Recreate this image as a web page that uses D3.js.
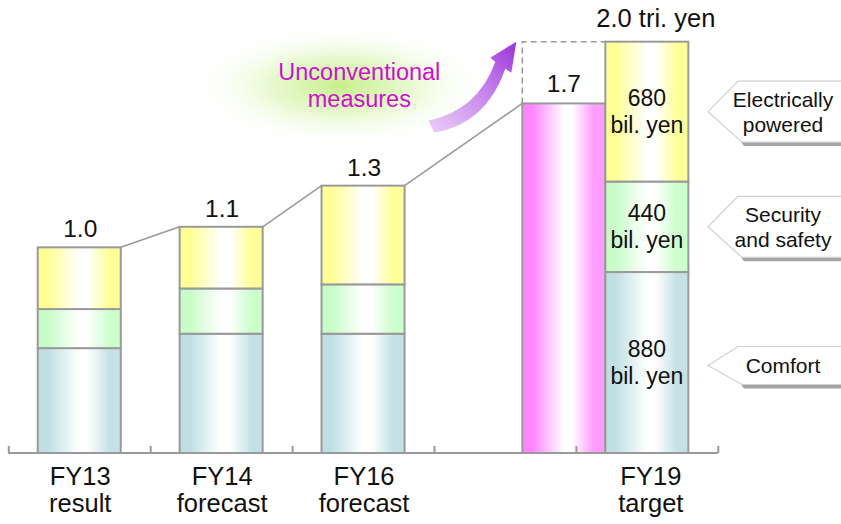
<!DOCTYPE html>
<html>
<head>
<meta charset="utf-8">
<script src="https://cdn.jsdelivr.net/npm/d3@7"></script>
<style>
  html, body { margin: 0; padding: 0; background: #fff; }
  svg { display: block; font-family: Arial, "Liberation Sans", Helvetica, sans-serif; }
</style>
</head>
<body>
<svg id="chart" width="841" height="524"></svg>
<script>
// Sales of in-vehicle products by field (trillion yen)
const categories = ["FY13", "FY14", "FY16", "", "FY19"];
const categoryLine2 = ["result", "forecast", "forecast", "", "target"];
const fields = ["comfort", "security", "electric"];
const comfort  = [0.51, 0.58, 0.58, null, 0.88];
const security = [0.19, 0.22, 0.24, null, 0.44];
const electric = [0.30, 0.30, 0.48, null, 0.68];
const totalLabels = ["1.0", "1.1", "1.3", null, "2.0 tri. yen"];
const conventionalFY19 = 1.7;
const conventionalLabel = "1.7";
const fy19Labels = ["880", "440", "680"];
const unitLabel = "bil. yen";
const calloutLines = [["Comfort"], ["Security", "and safety"], ["Electrically", "powered"]];
const calloutHeights = [38, 61, 61];

const svg = d3.select("#chart");
const W = 841, H = 524;
const baseY = 453;

const x = d3.scaleBand()
  .domain(categories)
  .range([8.3, 717.8])
  .paddingInner(0.415)
  .paddingOuter(0.2075);
const y = d3.scaleLinear().domain([0, 2.0]).range([baseY, 41.7]);
const bw = x.bandwidth();

// gradients: coloured edges fading to white in the middle
const defs = svg.append("defs");
const fills = {
  comfort: ["#bfdfe3", "#c4e2e6"],
  security: ["#c8fcc8", "#ccffcc"],
  electric: ["#ffff94", "#ffff99"],
  pink: ["#ff85ff", "#ff9cff"]
};
Object.entries(fills).forEach(([k, [c0, c1]]) => {
  const g = defs.append("linearGradient").attr("id", "g-" + k)
    .attr("x1", 0).attr("x2", 1).attr("y1", 0).attr("y2", 0);
  [[0, c0], [0.12, c0], [0.5, "#ffffff"], [0.6, "#ffffff"], [0.86, c1], [1, c1]]
    .forEach(([o, c]) => g.append("stop").attr("offset", o).attr("stop-color", c));
});
const glow = defs.append("radialGradient").attr("id", "glow");
glow.append("stop").attr("offset", 0).attr("stop-color", "#c4ee84").attr("stop-opacity", 0.95);
glow.append("stop").attr("offset", 0.45).attr("stop-color", "#dcf6b8").attr("stop-opacity", 0.7);
glow.append("stop").attr("offset", 1).attr("stop-color", "#ffffff").attr("stop-opacity", 0);
const arrowGrad = defs.append("linearGradient").attr("id", "arrowGrad")
  .attr("gradientUnits", "userSpaceOnUse")
  .attr("x1", 0).attr("y1", 90).attr("x2", 90).attr("y2", 0);
arrowGrad.append("stop").attr("offset", 0).attr("stop-color", "#e6c4f6").attr("stop-opacity", 0.85);
arrowGrad.append("stop").attr("offset", 0.6).attr("stop-color", "#c07ae8");
arrowGrad.append("stop").attr("offset", 1).attr("stop-color", "#9a30d8");

svg.append("rect").attr("width", W).attr("height", H).attr("fill", "#fff");

// stacked data
const rows = categories.map((c, i) => ({
  cat: c, comfort: comfort[i], security: security[i], electric: electric[i]
})).filter(d => d.comfort != null);
const series = d3.stack().keys(fields)(rows);

const barX = c => x(c);
const lastCat = categories[categories.length - 1];
const pinkX = x(lastCat) - bw;

// glow behind the annotation text
const ann = { x: pinkX, y: y(2.0) };
svg.append("ellipse")
  .attr("cx", ann.x - 182).attr("cy", ann.y + 44)
  .attr("rx", 150).attr("ry", 62)
  .attr("fill", "url(#glow)");

// connectors between bar tops
const tops = rows.map(d => ({ cat: d.cat, t: d.comfort + d.security + d.electric }));
const connectors = [];
for (let i = 0; i < tops.length - 2; i++) {
  connectors.push([barX(tops[i].cat) + bw, y(tops[i].t), barX(tops[i + 1].cat), y(tops[i + 1].t)]);
}
const t16 = tops[tops.length - 2];
connectors.push([barX(t16.cat) + bw, y(t16.t), pinkX, y(conventionalFY19)]);
svg.append("g").selectAll("line").data(connectors).join("line")
  .attr("x1", d => d[0]).attr("y1", d => d[1]).attr("x2", d => d[2]).attr("y2", d => d[3])
  .attr("stroke", "#9a9a9a").attr("stroke-width", 1.6);

// dashed outline of the gap up to the target
svg.append("path")
  .attr("d", `M${pinkX},${y(conventionalFY19)} V${y(2.0)} H${x(lastCat)}`)
  .attr("fill", "none").attr("stroke", "#999").attr("stroke-width", 1.6)
  .attr("stroke-dasharray", "6,4");

// FY19 bar without extra measures
svg.append("rect")
  .attr("x", pinkX).attr("y", y(conventionalFY19))
  .attr("width", bw).attr("height", baseY - y(conventionalFY19))
  .attr("fill", "url(#g-pink)").attr("stroke", "#9a9a9a").attr("stroke-width", 2);

// stacked bars
svg.append("g").selectAll("g").data(series).join("g")
  .attr("fill", d => `url(#g-${d.key})`)
  .selectAll("rect").data(d => d).join("rect")
  .attr("x", d => barX(d.data.cat))
  .attr("y", d => y(d[1]))
  .attr("width", bw)
  .attr("height", d => y(d[0]) - y(d[1]))
  .attr("stroke", "#9a9a9a").attr("stroke-width", 2);

// axis with inward ticks at category boundaries
const bounds = d3.range(categories.length + 1).map(i => x.range()[0] + i * x.step());
const axisScale = d3.scaleLinear().domain([0, 1]).range([0, 1]);
const axisG = svg.append("g").attr("transform", `translate(0,${baseY})`)
  .call(d3.axisBottom(axisScale).tickValues(bounds).tickSize(-7).tickSizeOuter(0).tickFormat(""));
axisG.select(".domain").attr("d", `M${bounds[0]},0H${bounds[bounds.length - 1]}`);
axisG.selectAll("path, line").attr("stroke", "#999").attr("stroke-width", 2);

// category labels
const catG = svg.append("g").attr("font-size", 25.5).attr("fill", "#111").attr("text-anchor", "middle");
categories.forEach((c, i) => {
  if (!c) return;
  const cx = barX(c) + bw / 2 + (i === categories.length - 1 ? 4 : 1);
  catG.append("text").attr("x", cx).attr("y", 485).text(c);
  catG.append("text").attr("x", cx).attr("y", 512).text(categoryLine2[i]);
});

// total labels
const valG = svg.append("g").attr("fill", "#111").attr("text-anchor", "middle");
tops.forEach((d, i) => {
  const idx = categories.indexOf(d.cat);
  const isLast = d.cat === lastCat;
  valG.append("text")
    .attr("x", barX(d.cat) + bw / 2 + (isLast ? 9 : 1))
    .attr("y", y(d.t) - (isLast ? 15 : 10))
    .attr("font-size", isLast ? 25.5 : 24.5)
    .text(totalLabels[idx]);
});
valG.append("text")
  .attr("x", pinkX + bw / 2).attr("y", y(conventionalFY19) - 11)
  .attr("font-size", 24.5).text(conventionalLabel);

// FY19 segment labels
const segG = svg.append("g").attr("fill", "#111").attr("text-anchor", "middle").attr("font-size", 23);
series.forEach((s, i) => {
  const seg = s.find(d => d.data.cat === lastCat);
  const mid = (y(seg[0]) + y(seg[1])) / 2;
  const cx = barX(lastCat) + bw / 2;
  segG.append("text").attr("x", cx).attr("y", mid - 5.5).text(fy19Labels[i]);
  segG.append("text").attr("x", cx).attr("y", mid + 21.5).text(unitLabel);
});

// callout tags pointing at FY19 segments
const tipX = 708, bodyX = 740;
const callG = svg.append("g");
series.forEach((s, i) => {
  const seg = s.find(d => d.data.cat === lastCat);
  const mid = (y(seg[0]) + y(seg[1])) / 2 + (i === 0 ? 3 : 0);
  const h = calloutHeights[i];
  const d = `M${tipX},${mid} L${bodyX - 2},${mid - h / 2} H${W + 10} V${mid + h / 2} H${bodyX + 2} Z`;
  // drop shadow along the lower edge
  callG.append("path")
    .attr("d", `M${bodyX + 1},${mid + h / 2} H${W + 10} V${mid + h / 2 + 4} H${bodyX + 4} Z`)
    .attr("fill", "#a4a4a4");
  callG.append("path").attr("d", d)
    .attr("fill", "#fff").attr("stroke", "#d0d0d0").attr("stroke-width", 1.2);
  const lines = calloutLines[i];
  const t = callG.append("text").attr("text-anchor", "middle").attr("font-size", 21).attr("fill", "#111");
  const first = lines.length === 1 ? mid + 7.5 : mid - 4.5;
  lines.forEach((ln, j) => {
    t.append("tspan").attr("x", 783).attr("y", first + j * 24.5).text(ln);
  });
});

// curved arrow towards the target
svg.append("path")
  .attr("transform", `translate(${ann.x - 96},${ann.y - 2})`)
  .attr("d", "M2,81 Q52,70 69,22 L64,18 L90,2 L85,33 L79,29 Q60,84 8,93 Z")
  .attr("fill", "url(#arrowGrad)");

// annotation text
svg.append("text")
  .attr("text-anchor", "middle").attr("font-size", 23.5).attr("fill", "#cc10cc")
  .selectAll("tspan").data(["Unconventional", "measures"]).join("tspan")
  .attr("x", ann.x - 163).attr("y", (d, i) => ann.y + 38 + i * 27.5)
  .text(d => d);
</script>
</body>
</html>
